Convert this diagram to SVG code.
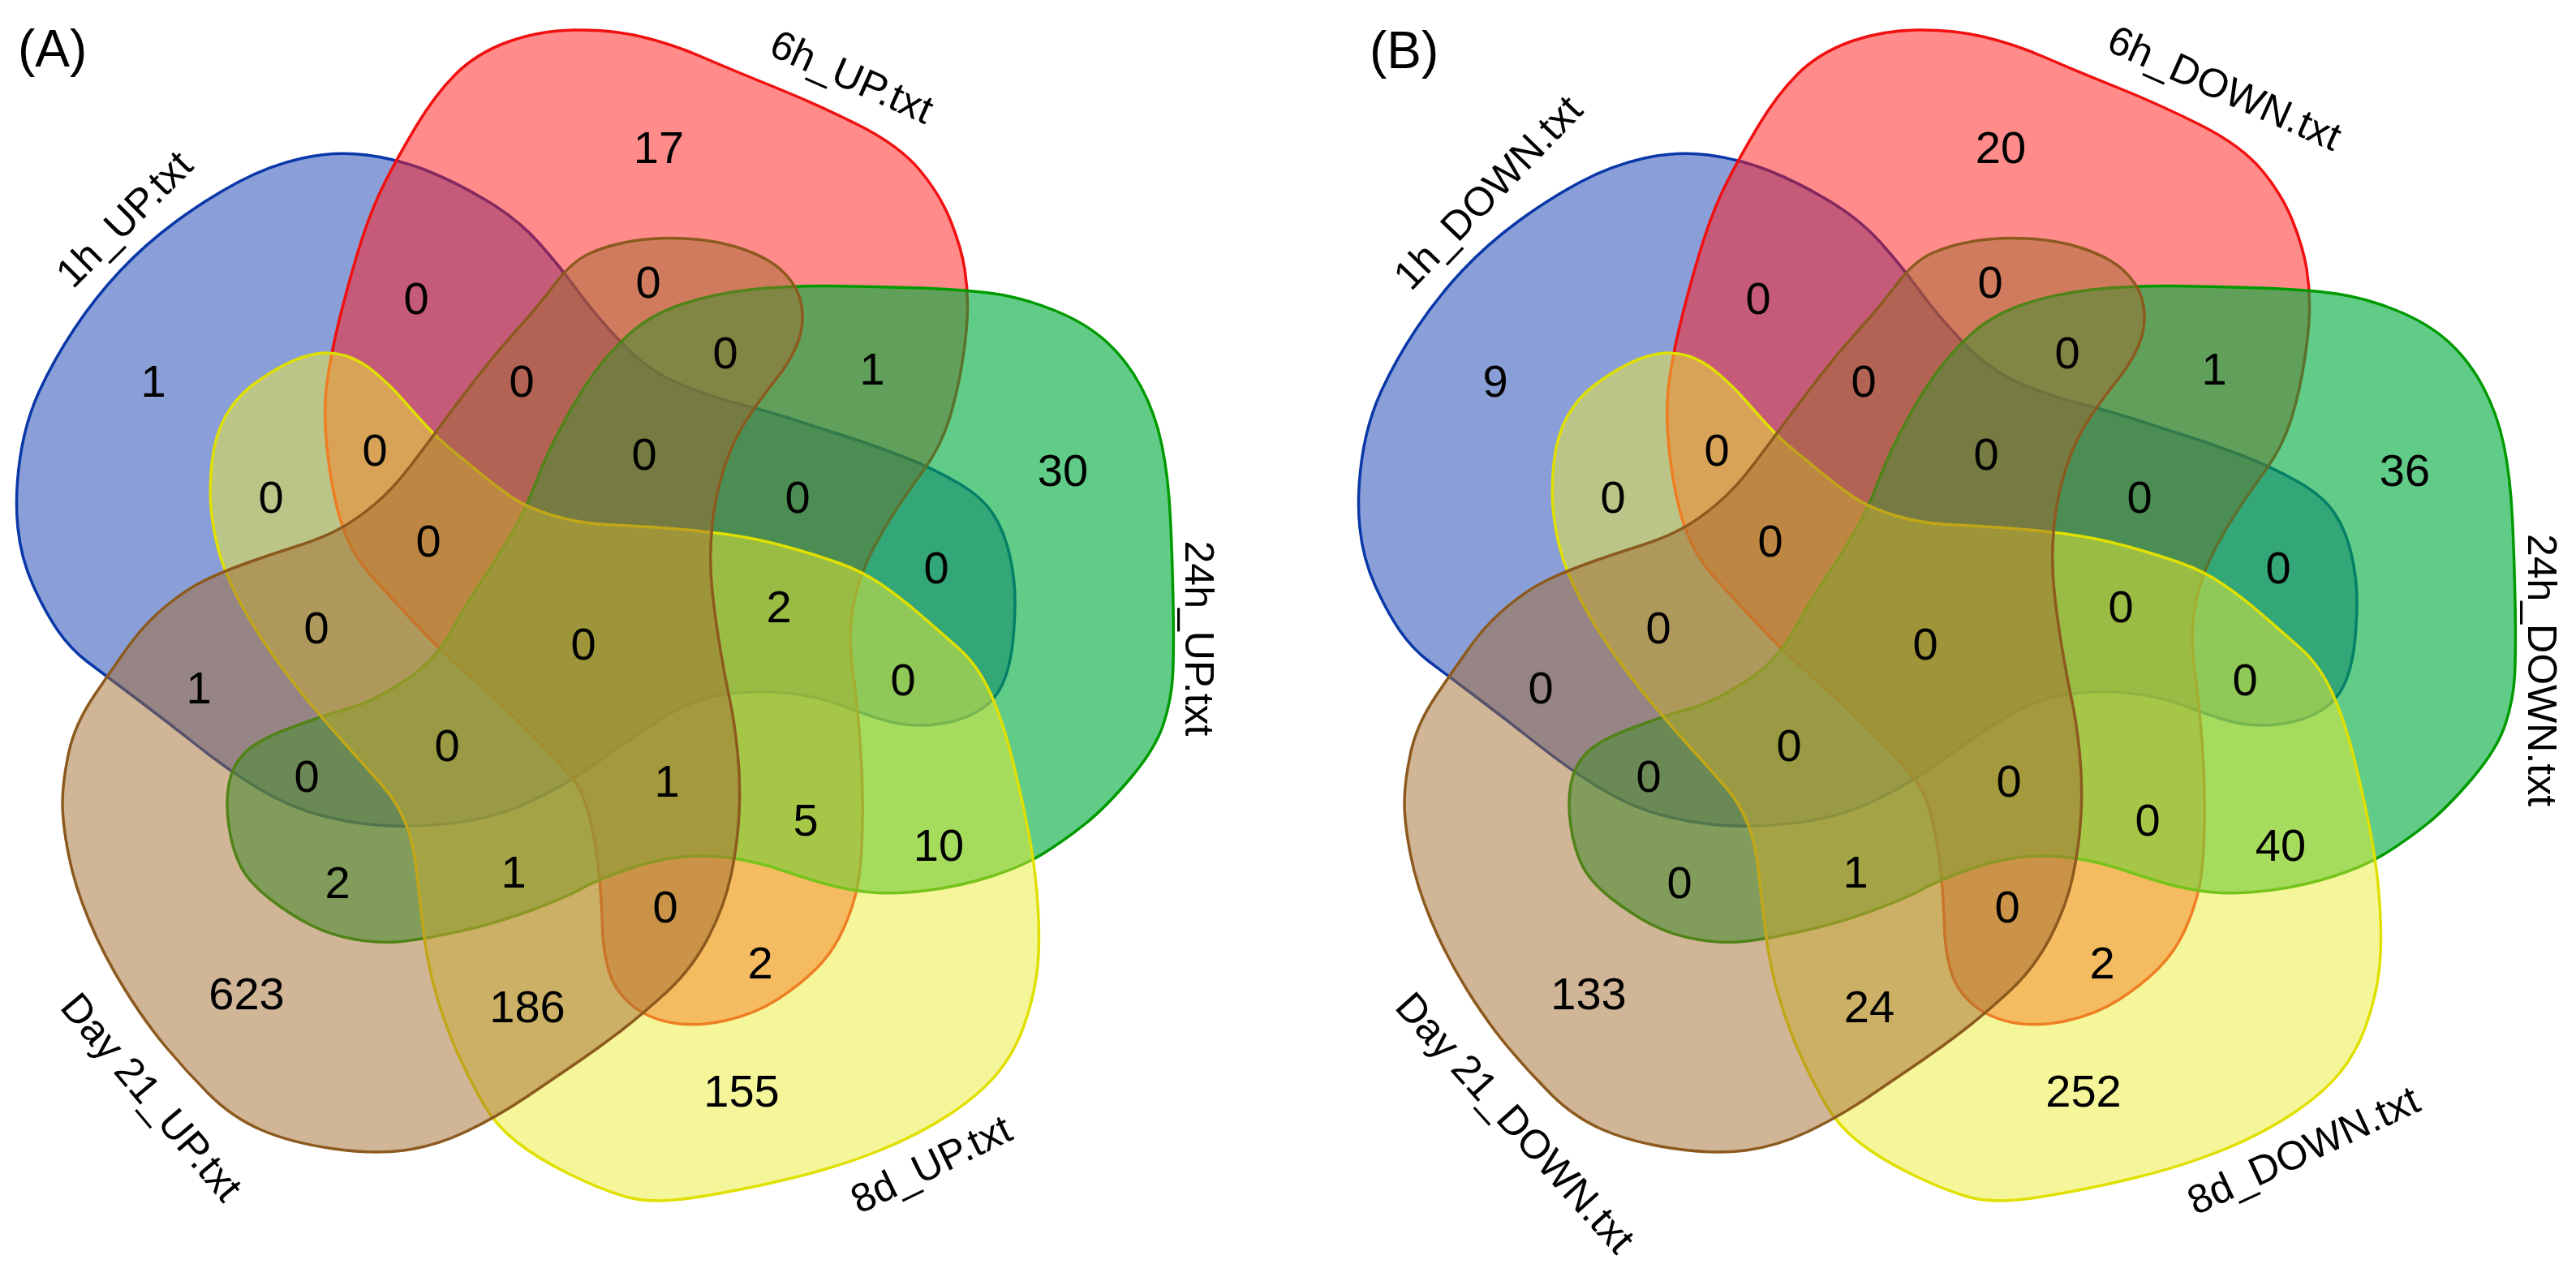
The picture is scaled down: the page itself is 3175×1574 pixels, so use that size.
<svg xmlns="http://www.w3.org/2000/svg" width="3175" height="1574" viewBox="0 0 3175 1574">
<style>
.s1{fill:rgb(21,63,177);fill-opacity:.5;stroke:#0a38a8;stroke-width:3.5}
.s2{fill:rgb(255,23,23);fill-opacity:.5;stroke:#f01010;stroke-width:3.5}
.s3{fill:rgb(0,172,62);fill-opacity:.62;stroke:#009a00;stroke-width:3.5}
.s4{fill:rgb(235,235,53);fill-opacity:.5;stroke:#e0e000;stroke-width:3.5}
.s5{fill:rgb(161,107,47);fill-opacity:.5;stroke:#8c5a1e;stroke-width:3.5}
.n{font-family:"Liberation Sans",Arial,sans-serif;font-size:56px;fill:#000;text-anchor:middle}
.l{font-family:"Liberation Sans",Arial,sans-serif;font-size:50px;fill:#000;text-anchor:middle}
.p{font-family:"Liberation Sans",Arial,sans-serif;font-size:64px;fill:#000}
</style>
<defs>
<path id="blue" class="s1" d="M372.5,195 Q413,186 451.5,191 Q490,196 525.5,210 Q561,224 599.5,247 Q638,270 663.5,298.5 Q689,327 712,358.5 Q735,390 767.5,424 Q800,458 839.5,474 Q879,490 909.5,497.5 Q940,505 973,515.5 Q1006,526 1044.5,538.5 Q1083,551 1116,564 Q1149,577 1179.5,594.5 Q1210,612 1224,633.5 Q1238,655 1244.5,684.5 Q1251,714 1251,739.5 Q1251,765 1248.5,790 Q1246,815 1239,835 Q1232,855 1218,867.5 Q1204,880 1181.5,887 Q1159,894 1133.5,894 Q1108,894 1082.5,885.5 Q1057,877 1031.5,867.5 Q1006,858 968,854 Q930,850 891.5,856 Q853,862 815,886 Q777,910 738.5,938 Q700,966 656,987 Q612,1008 561,1014 Q510,1020 472,1017.5 Q434,1015 395.5,1005 Q357,995 319,972 Q281,949 242.5,918.5 Q204,888 166,859.5 Q128,831 107.5,815.5 Q87,800 71.5,777.5 Q56,755 41,722 Q26,689 22,650.5 Q18,612 24.5,566 Q31,520 48.5,482 Q66,444 91.5,405.5 Q117,367 148,334 Q179,301 217,273 Q255,245 293.5,224.5 Q332,204 372.5,195 Z"/>
<path id="red" class="s2" d="M561.5,91.5 Q587,66 625,52 Q663,38 707,37 Q751,36 789.5,45 Q828,54 866,70.5 Q904,87 955,107.5 Q1006,128 1057,153.5 Q1108,179 1133.5,209.5 Q1159,240 1172,273 Q1185,306 1189,331.5 Q1193,357 1192.5,382.5 Q1192,408 1186,446.5 Q1180,485 1169.5,518 Q1159,551 1139.5,578 Q1120,605 1105,627.5 Q1090,650 1077,675 Q1064,700 1057,724 Q1050,748 1048.5,774 Q1047,800 1051.5,831 Q1056,862 1060,913 Q1064,964 1063,1015 Q1062,1066 1057,1091.5 Q1052,1117 1039.5,1145 Q1027,1173 1006.5,1193.5 Q986,1214 958,1232 Q930,1250 894,1258 Q858,1266 827.5,1260.5 Q797,1255 776.5,1237 Q756,1219 749.5,1193.5 Q743,1168 742.5,1142.5 Q742,1117 739,1083.5 Q736,1050 729,1017.5 Q722,985 711,967.5 Q700,950 656,906 Q612,862 576.5,831 Q541,800 513,770 Q485,740 459.5,712 Q434,684 422,648 Q410,612 404,561 Q398,510 403,472 Q408,434 421,383 Q434,332 446.5,293.5 Q459,255 474.5,224.5 Q490,194 513,155.5 Q536,117 561.5,91.5 Z"/>
<path id="green" class="s3" d="M840.5,375 Q879,362 924.5,357 Q970,352 1025,352.5 Q1080,353 1135,355 Q1190,357 1225.5,362 Q1261,367 1299.5,382.5 Q1338,398 1363.5,421 Q1389,444 1406.5,477 Q1424,510 1432,548.5 Q1440,587 1442.5,638 Q1445,689 1446,744.5 Q1447,800 1445.5,831 Q1444,862 1434,892.5 Q1424,923 1393.5,959 Q1363,995 1337.5,1015.5 Q1312,1036 1286,1052 Q1260,1068 1222.5,1080 Q1185,1092 1146.5,1097 Q1108,1102 1082.5,1100.5 Q1057,1099 1031.5,1093 Q1006,1087 968,1074 Q930,1061 896.5,1057 Q863,1053 832.5,1057 Q802,1061 766.5,1074 Q731,1087 715.5,1096 Q700,1105 656,1121.5 Q612,1138 566,1148 Q520,1158 494.5,1160.5 Q469,1163 438.5,1158 Q408,1153 382.5,1140 Q357,1127 331.5,1107 Q306,1087 296,1066.5 Q286,1046 282,1018 Q278,990 282,967 Q286,944 301,928.5 Q316,913 357,897.5 Q398,882 428.5,873.5 Q459,865 497.5,840 Q536,815 556.5,777.5 Q577,740 594.5,714.5 Q612,689 630,658.5 Q648,628 660.5,594.5 Q673,561 693.5,523 Q714,485 732.5,459.5 Q751,434 776.5,411 Q802,388 840.5,375 Z"/>
<path id="yellow" class="s4" d="M390,436 Q408,433 426,438.5 Q444,444 462,459 Q480,474 495,491 Q510,508 525,524.5 Q540,541 558.5,556 Q577,571 594.5,585.5 Q612,600 631,613 Q650,626 682,635.5 Q714,645 745.5,646.5 Q777,648 815,650.5 Q853,653 891.5,658 Q930,663 968,673.5 Q1006,684 1034,694 Q1062,704 1085,719.5 Q1108,735 1133.5,757 Q1159,779 1182,799.5 Q1205,820 1220.5,854 Q1236,888 1248.5,939 Q1261,990 1269,1033 Q1277,1076 1279.5,1122 Q1282,1168 1278,1199 Q1274,1230 1262.5,1263 Q1251,1296 1230.5,1321.5 Q1210,1347 1172,1372.5 Q1134,1398 1083,1418.5 Q1032,1439 968,1454 Q904,1469 853,1476.5 Q802,1484 771,1475 Q740,1466 701.5,1447 Q663,1428 637.5,1408 Q612,1388 597,1362.5 Q582,1337 566.5,1303.5 Q551,1270 539.5,1232 Q528,1194 523,1155.5 Q518,1117 514,1078.5 Q510,1040 500,1015 Q490,990 474.5,972 Q459,954 433.5,926 Q408,898 382.5,867.5 Q357,837 333.5,803.5 Q310,770 293,737 Q276,704 269,677 Q262,650 260,625 Q258,600 261.5,568 Q265,536 278,513 Q291,490 311.5,474.5 Q332,459 352,449 Q372,439 390,436 Z"/>
<path id="brown" class="s5" d="M684,350 Q705,322 727.5,312 Q750,302 780,297 Q810,292 844.5,294 Q879,296 904.5,303.5 Q930,311 947.5,321.5 Q965,332 976.5,348.5 Q988,365 989,386.5 Q990,408 981,428 Q972,448 956,468 Q940,488 922,514.5 Q904,541 892.5,576.5 Q881,612 877.5,650.5 Q874,689 877.5,724.5 Q881,760 887.5,798.5 Q894,837 899.5,862.5 Q905,888 909,926 Q913,964 911,1002.5 Q909,1041 901,1079 Q893,1117 873,1155.5 Q853,1194 822.5,1222 Q792,1250 766,1270 Q740,1290 714.5,1307.5 Q689,1325 650.5,1351 Q612,1377 574,1395 Q536,1413 497.5,1418 Q459,1423 408,1415.5 Q357,1408 321.5,1392.5 Q286,1377 258,1349 Q230,1321 204.5,1290.5 Q179,1260 153.5,1219 Q128,1178 110,1135 Q92,1092 84.5,1053.5 Q77,1015 77,989.5 Q77,964 84.5,928.5 Q92,893 116,857.5 Q140,822 159.5,795 Q179,768 204.5,747 Q230,726 253,715 Q276,704 304,694 Q332,684 365,673.5 Q398,663 419,651.5 Q440,640 462.5,621 Q485,602 508,571.5 Q531,541 548,518 Q565,495 588.5,464.5 Q612,434 637.5,406 Q663,378 684,350 Z"/>
</defs>
<rect width="3175" height="1574" fill="#ffffff"/>
<g id="panelA">
<g id="setsA">
<use href="#blue"/><use href="#red"/><use href="#green"/><use href="#yellow"/><use href="#brown"/>
</g>
<g id="labelsA">
<text class="p" x="22" y="82">(A)</text>
<text class="l" transform="translate(165,282) rotate(-45)">1h_UP.txt</text>
<text class="l" transform="translate(1043,110) rotate(24)">6h_UP.txt</text>
<text class="l" transform="translate(1461,787) rotate(90)">24h_UP.txt</text>
<text class="l" transform="translate(1155,1450) rotate(-26)">8d_UP.txt</text>
<text class="l" transform="translate(174,1363) rotate(50)">Day 21_UP.txt</text>
</g>
<g id="countsA">
<text class="n" x="189" y="489">1</text>
<text class="n" x="513" y="387">0</text>
<text class="n" x="643" y="489">0</text>
<text class="n" x="462" y="574">0</text>
<text class="n" x="334" y="632">0</text>
<text class="n" x="528" y="686">0</text>
<text class="n" x="390" y="793">0</text>
<text class="n" x="719" y="813">0</text>
<text class="n" x="812" y="201">17</text>
<text class="n" x="799" y="367">0</text>
<text class="n" x="894" y="454">0</text>
<text class="n" x="1075" y="474">1</text>
<text class="n" x="794" y="579">0</text>
<text class="n" x="983" y="632">0</text>
<text class="n" x="1310" y="599">30</text>
<text class="n" x="1154" y="719">0</text>
<text class="n" x="960" y="767">2</text>
<text class="n" x="245" y="867">1</text>
<text class="n" x="551" y="938">0</text>
<text class="n" x="378" y="976">0</text>
<text class="n" x="416" y="1107">2</text>
<text class="n" x="633" y="1094">1</text>
<text class="n" x="304" y="1244">623</text>
<text class="n" x="650" y="1260">186</text>
<text class="n" x="1113" y="857">0</text>
<text class="n" x="822" y="982">1</text>
<text class="n" x="993" y="1030">5</text>
<text class="n" x="1157" y="1061">10</text>
<text class="n" x="820" y="1137">0</text>
<text class="n" x="937" y="1206">2</text>
<text class="n" x="914" y="1364">155</text>
</g>
</g>
<g id="panelB">
<g id="setsB" transform="translate(1654,0)">
<use href="#blue"/><use href="#red"/><use href="#green"/><use href="#yellow"/><use href="#brown"/>
</g>
<g id="labelsB">
<text class="p" x="1688" y="84">(B)</text>
<text class="l" transform="translate(1846,249) rotate(-46)">1h_DOWN.txt</text>
<text class="l" transform="translate(2735,124) rotate(24)">6h_DOWN.txt</text>
<text class="l" transform="translate(3116,826) rotate(90)">24h_DOWN.txt</text>
<text class="l" transform="translate(2846,1433) rotate(-25)">8d_DOWN.txt</text>
<text class="l" transform="translate(1855,1395) rotate(48)">Day 21_DOWN.txt</text>
</g>
<g id="countsB">
<text class="n" x="1843" y="489">9</text>
<text class="n" x="2167" y="387">0</text>
<text class="n" x="2297" y="489">0</text>
<text class="n" x="2116" y="574">0</text>
<text class="n" x="1988" y="632">0</text>
<text class="n" x="2182" y="686">0</text>
<text class="n" x="2044" y="793">0</text>
<text class="n" x="2373" y="813">0</text>
<text class="n" x="2466" y="201">20</text>
<text class="n" x="2453" y="367">0</text>
<text class="n" x="2548" y="454">0</text>
<text class="n" x="2729" y="474">1</text>
<text class="n" x="2448" y="579">0</text>
<text class="n" x="2637" y="632">0</text>
<text class="n" x="2964" y="599">36</text>
<text class="n" x="2808" y="719">0</text>
<text class="n" x="2614" y="767">0</text>
<text class="n" x="1899" y="867">0</text>
<text class="n" x="2205" y="938">0</text>
<text class="n" x="2032" y="976">0</text>
<text class="n" x="2070" y="1107">0</text>
<text class="n" x="2287" y="1094">1</text>
<text class="n" x="1958" y="1244">133</text>
<text class="n" x="2304" y="1260">24</text>
<text class="n" x="2767" y="857">0</text>
<text class="n" x="2476" y="982">0</text>
<text class="n" x="2647" y="1030">0</text>
<text class="n" x="2811" y="1061">40</text>
<text class="n" x="2474" y="1137">0</text>
<text class="n" x="2591" y="1206">2</text>
<text class="n" x="2568" y="1364">252</text>
</g>
</g>
</svg>
